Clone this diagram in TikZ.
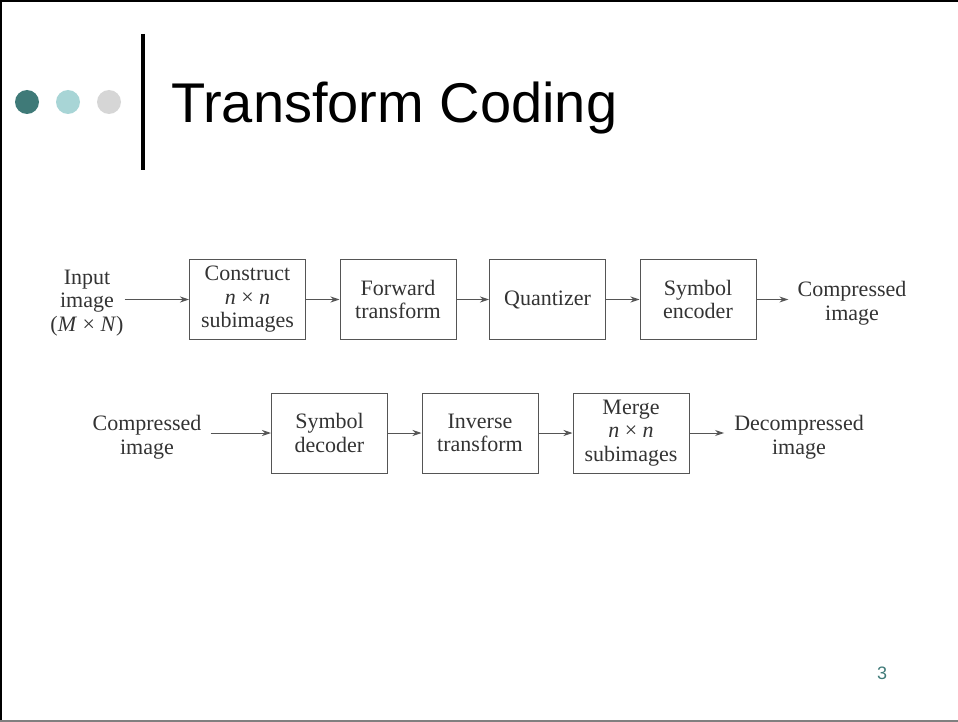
\documentclass[tikz,border=0pt]{standalone}
\usepackage{fontspec}
\usetikzlibrary{arrows.meta}
\setmainfont{Liberation Serif}
\newfontfamily\slidefont{Liberation Sans}
\definecolor{dotdark}{HTML}{3F7A78}
\definecolor{dotlight}{HTML}{A8D5D6}
\definecolor{dotgray}{HTML}{D6D6D6}
\definecolor{figline}{HTML}{555555}
\definecolor{figtext}{HTML}{333333}
\begin{document}
\begin{tikzpicture}[
  x=1pt, y=-1pt,
  box/.style={draw=figline, line width=1pt, minimum width=116pt, minimum height=80pt,
              align=center, inner sep=0pt, text=figtext, font=\fontsize{22}{23.5}\selectfont},
  lbl/.style={align=center, inner sep=0pt, text=figtext, font=\fontsize{22}{23.5}\selectfont},
  arrow/.style={-{Stealth[length=9pt, width=6pt]}, figline, line width=1pt},
]
\useasboundingbox (0,0) rectangle (958,722);

% Slide frame
\draw[black, line width=2pt] (0,1) -- (958,1);
\draw[black, line width=2pt] (1,0) -- (1,722);
\draw[gray, line width=2pt] (0,721) -- (958,721);

% Slide header
\fill[dotdark] (27,102) circle (12);
\fill[dotlight] (68,102) circle (12);
\fill[dotgray] (109,102) circle (12);
\draw[black, line width=3.5pt] (143,34) -- (143,170);
\node[anchor=base west, inner sep=0pt, font=\slidefont\fontsize{56}{60}\selectfont] (title) at (171,123) {Transform Coding};

% === Encoder (top row) ===
\node[lbl] (input) at (87,303) {Input\\image\\(\textit{M} × \textit{N})};
\node[box] (construct) at (247.5,299.5) {Construct\\\textit{n} × \textit{n}\\subimages};
\node[box] (forward) at (398,299.5) {Forward\\transform};
\node[box] (quant) at (547.5,299.5) {Quantizer};
\node[box] (encoder) at (698,299.5) {Symbol\\encoder};
\node[lbl] (compout) at (852,303) {Compressed\\image};

\draw[arrow] ([xshift=1pt]input.east |- construct.west) -- (construct.west);
\draw[arrow] (construct) -- (forward);
\draw[arrow] (forward) -- (quant);
\draw[arrow] (quant) -- (encoder);
\draw[arrow] (encoder.east) -- ([xshift=-9pt]compout.west |- encoder.east);

% === Decoder (bottom row) ===
\node[lbl] (compin) at (147,437) {Compressed\\image};
\node[box] (decoder) at (329.5,433) {Symbol\\decoder};
\node[box] (inverse) at (480,433) {Inverse\\transform};
\node[box] (merge) at (631,433) {Merge\\\textit{n} × \textit{n}\\subimages};
\node[lbl] (decomp) at (799,437) {Decompressed\\image};

\draw[arrow] ([xshift=9pt]compin.east |- decoder.west) -- (decoder.west);
\draw[arrow] (decoder) -- (inverse);
\draw[arrow] (inverse) -- (merge);
\draw[arrow] (merge.east) -- ([xshift=-10pt]decomp.west |- merge.east);

% Page number
\node[text=dotdark, font=\slidefont\fontsize{18}{20}\selectfont] (pagenum) at (882,673) {3};
\end{tikzpicture}
\end{document}
